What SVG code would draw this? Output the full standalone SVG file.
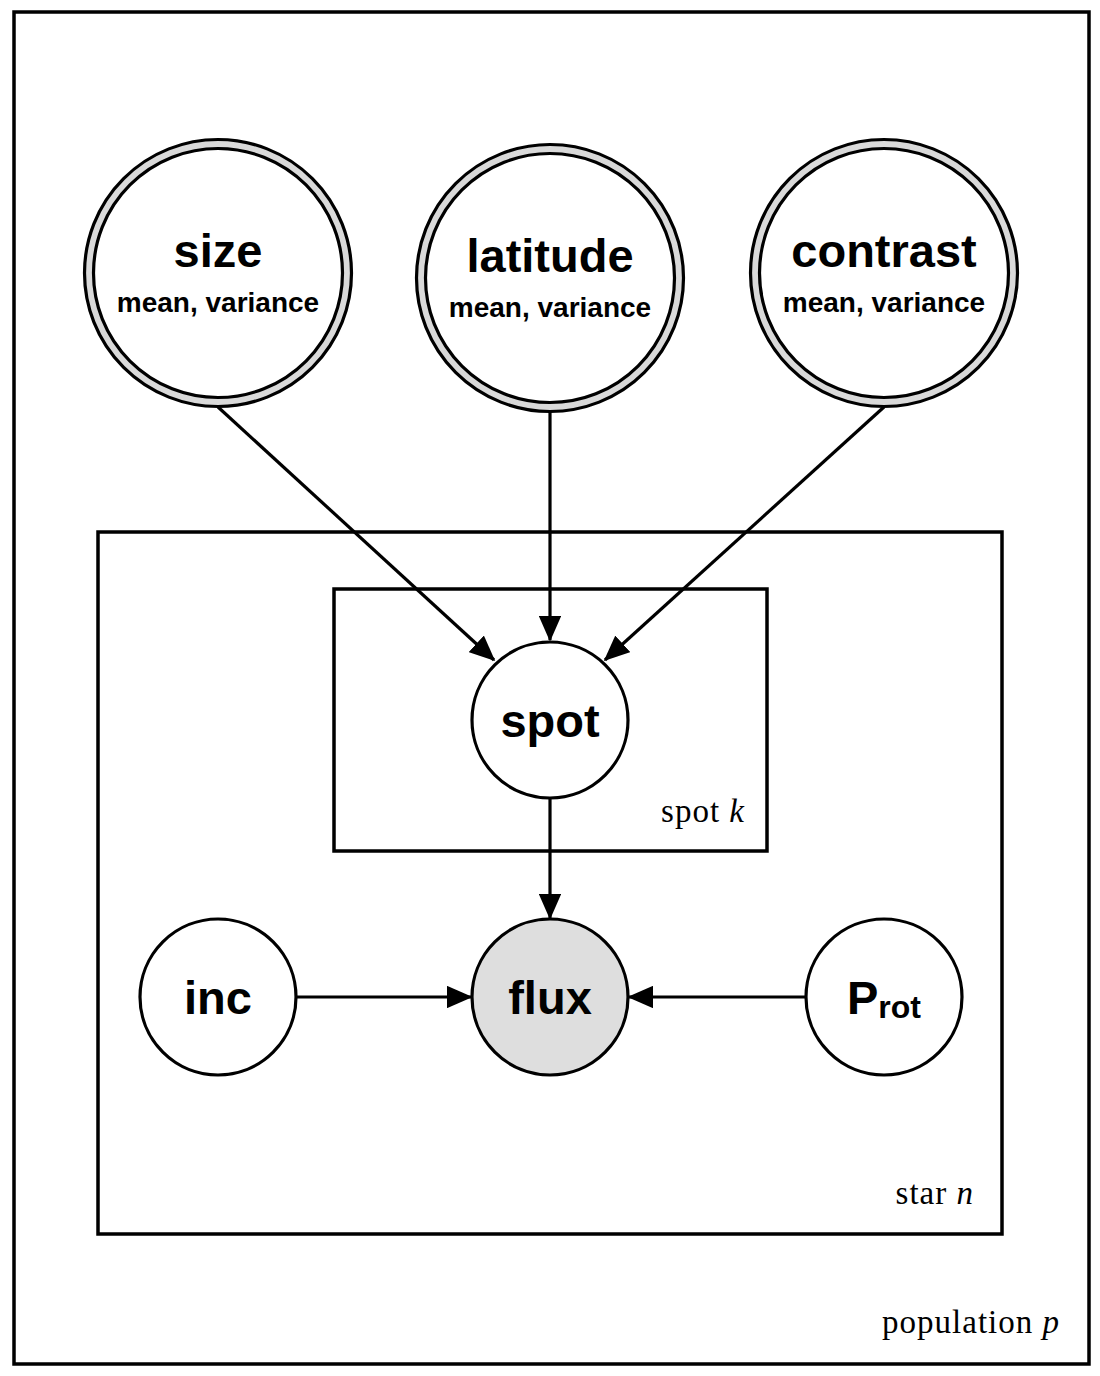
<svg xmlns="http://www.w3.org/2000/svg" width="1100" height="1376" viewBox="0 0 1100 1376">
<style>
.plate{fill:none;stroke:#000;stroke-width:3.5}
.node{fill:#fff;stroke:#000;stroke-width:3.2}
.obs{fill:#dedede;stroke:#000;stroke-width:3.2}
.ring{fill:#d9d9d9;stroke:#000;stroke-width:3.2}
.lbl{font-family:"Liberation Sans",Arial,sans-serif;font-weight:bold;fill:#000;text-anchor:middle}
.big{font-size:47px}
.sub{font-size:28px}
.plab{font-family:"Liberation Serif","Times New Roman",serif;font-size:33px;letter-spacing:1px;fill:#000;text-anchor:end}
.edge{stroke:#000;stroke-width:3.2;fill:none;marker-end:url(#ah)}
</style>
<defs>
<marker id="ah" markerWidth="8" markerHeight="7" refX="7.5" refY="3.5" orient="auto" markerUnits="strokeWidth">
<path d="M0,0 L8,3.5 L0,7 Z" fill="#000"/>
</marker>
</defs>
<rect width="1100" height="1376" fill="#fff"/>
<g id="plates">
<rect id="plate-population" class="plate" x="14" y="12" width="1075" height="1352"/>
<rect id="plate-star" class="plate" x="98" y="532" width="904" height="702"/>
<rect id="plate-spot" class="plate" x="334" y="589" width="433" height="262"/>
<text class="plab" x="745" y="822">spot <tspan font-style="italic">k</tspan></text>
<text class="plab" x="974" y="1204">star <tspan font-style="italic">n</tspan></text>
<text class="plab" x="1060" y="1333">population <tspan font-style="italic">p</tspan></text>
</g>
<g id="connectors">
<line class="edge" x1="218" y1="407" x2="494" y2="660"/>
<line class="edge" x1="550" y1="412" x2="550" y2="640"/>
<line class="edge" x1="884" y1="407" x2="605" y2="660"/>
<line class="edge" x1="550" y1="798" x2="550" y2="918"/>
<line class="edge" x1="296" y1="997" x2="471" y2="997"/>
<line class="edge" x1="806" y1="997" x2="629" y2="997"/>
</g>
<g id="node-size">
<circle class="ring" cx="218" cy="273" r="133.5"/>
<circle class="node" cx="218" cy="273" r="124.5"/>
<text class="lbl big" x="218" y="267">size</text>
<text class="lbl sub" x="218" y="312">mean, variance</text>
</g>
<g id="node-latitude">
<circle class="ring" cx="550" cy="278" r="133.5"/>
<circle class="node" cx="550" cy="278" r="124.5"/>
<text class="lbl big" x="550" y="272">latitude</text>
<text class="lbl sub" x="550" y="317">mean, variance</text>
</g>
<g id="node-contrast">
<circle class="ring" cx="884" cy="273" r="133.5"/>
<circle class="node" cx="884" cy="273" r="124.5"/>
<text class="lbl big" x="884" y="267">contrast</text>
<text class="lbl sub" x="884" y="312">mean, variance</text>
</g>
<g id="node-spot">
<circle class="node" cx="550" cy="720" r="78"/>
<text class="lbl big" x="550" y="737">spot</text>
</g>
<g id="node-flux">
<circle class="obs" cx="550" cy="997" r="78"/>
<text class="lbl big" x="550" y="1014">flux</text>
</g>
<g id="node-inc">
<circle class="node" cx="218" cy="997" r="78"/>
<text class="lbl big" x="218" y="1014">inc</text>
</g>
<g id="node-prot">
<circle class="node" cx="884" cy="997" r="78"/>
<text class="lbl big" x="884" y="1014">P<tspan font-size="32px" dy="4">rot</tspan></text>
</g>
</svg>
